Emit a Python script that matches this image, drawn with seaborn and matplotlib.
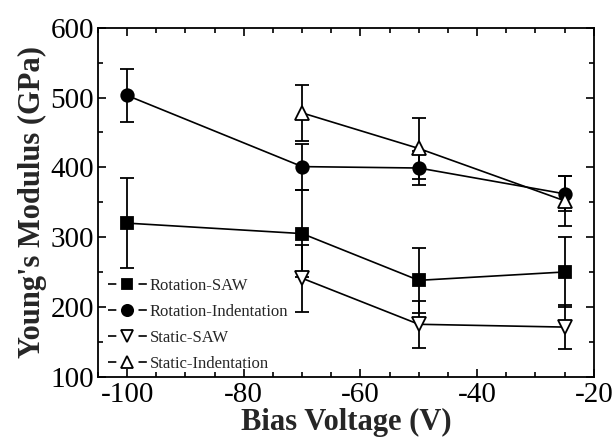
import matplotlib
matplotlib.use("Agg")
import matplotlib.pyplot as plt
import seaborn as sns
import pandas as pd
from matplotlib.ticker import MultipleLocator
from matplotlib.lines import Line2D

# ---- data ----
x_rot = [-100, -70, -50, -25]
rot_saw = [320, 305, 238, 250]
rot_saw_err = [64, 62, 47, 50]
rot_ind = [503, 401, 399, 362]
rot_ind_err = [38, 33, 24, 25]

x_sta = [-70, -50, -25]
sta_saw = [241, 175, 171]
sta_saw_err = [48, 34, 32]
sta_ind = [478, 427, 352]
sta_ind_err = [40, 44, 36]

labels = ["Rotation-SAW", "Rotation-Indentation", "Static-SAW", "Static-Indentation"]

sns.set_theme(style="ticks")
plt.rcParams["font.family"] = ["Liberation Serif", "DejaVu Serif"]
plt.rcParams["axes.unicode_minus"] = False

fig = plt.figure(figsize=(6.16, 4.41), dpi=100)
ax = fig.add_axes([0.159, 0.146, 0.805, 0.791])

series = [
    (x_rot, rot_saw, rot_saw_err, labels[0], "s", "black", 8.0),
    (x_rot, rot_ind, rot_ind_err, labels[1], "o", "black", 9.0),
    (x_sta, sta_saw, sta_saw_err, labels[2], "v", "white", 10),
    (x_sta, sta_ind, sta_ind_err, labels[3], "^", "white", 10),
]

handles = []
for xs, ys, es, lab, mk, fc, ms in series:
    ax.errorbar(xs, ys, yerr=es, fmt="none", ecolor="black", elinewidth=1.3,
                capsize=5, capthick=1.3, zorder=2)
    df = pd.DataFrame({"x": xs, "y": ys})
    sns.lineplot(data=df, x="x", y="y", ax=ax, color="black", linewidth=1.2,
                 marker=mk, markersize=ms, markerfacecolor=fc,
                 markeredgecolor="black", markeredgewidth=1.3,
                 legend=False, zorder=3)
    handles.append(Line2D([], [], color="black", linewidth=1.2,
                          linestyle=(0, (5.0, 13.3)), marker=mk,
                          markersize=ms * 0.9, markerfacecolor=fc,
                          markeredgecolor="black", markeredgewidth=1.3,
                          label=lab))

ax.set_xlim(-105, -20)
ax.set_ylim(100, 600)
ax.xaxis.set_major_locator(MultipleLocator(20))
ax.xaxis.set_minor_locator(MultipleLocator(5))
ax.yaxis.set_major_locator(MultipleLocator(100))
ax.yaxis.set_minor_locator(MultipleLocator(50))
ax.tick_params(which="both", direction="in", top=True, right=True,
               labelsize=21, width=1.2, colors="black")
ax.tick_params(axis="y", pad=3)
ax.tick_params(axis="x", pad=4)
ax.tick_params(which="major", length=6)
ax.tick_params(which="minor", length=3.5)
for sp in ax.spines.values():
    sp.set_linewidth(1.3)
    sp.set_color("black")

ax.set_xlabel("Bias Voltage (V)", fontsize=22, fontweight="bold", labelpad=0)
ax.set_ylabel("Young's Modulus (GPa)", fontsize=22, fontweight="bold", labelpad=2)

leg = ax.legend(handles=handles, loc="lower left", frameon=False, fontsize=12.0,
                handlelength=2.34, handletextpad=0.15, labelspacing=0.6,
                borderaxespad=0.0, borderpad=0.3)
leg.set_bbox_to_anchor((0.01, 0.0), transform=ax.transAxes)

fig.savefig("out.png", dpi=100)
